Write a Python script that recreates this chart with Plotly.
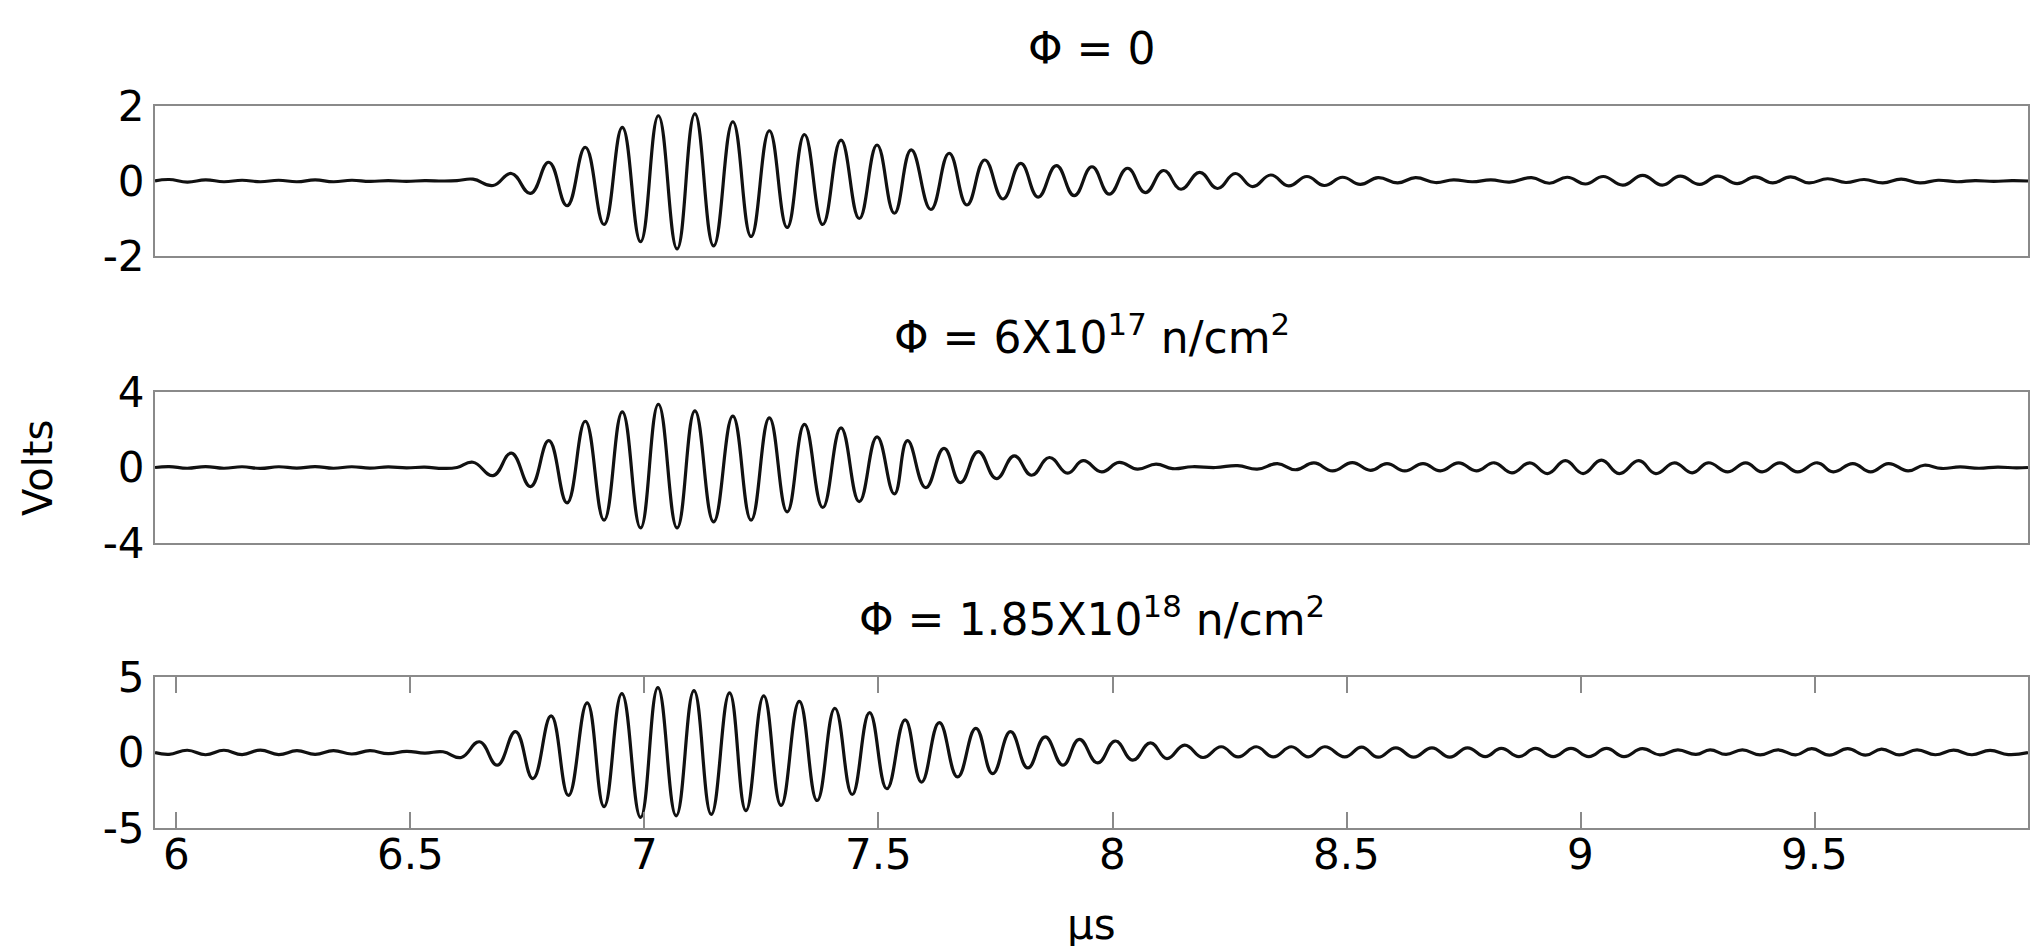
import plotly.graph_objects as go

time_p1 = [5.955, 5.985, 6.024, 6.063, 6.102, 6.141, 6.180, 6.219, 6.258, 6.297, 6.336, 6.375, 6.414,
           6.453, 6.492, 6.531, 6.570, 6.600,
           6.634, 6.677, 6.716, 6.757, 6.796, 6.835, 6.874, 6.914, 6.953, 6.992, 7.030, 7.070, 7.108,
           7.148, 7.189, 7.228, 7.267, 7.305, 7.342, 7.381, 7.420, 7.459, 7.497, 7.534, 7.570, 7.612,
           7.651, 7.689, 7.727, 7.766, 7.804, 7.841, 7.880, 7.918, 7.956, 7.993, 8.032, 8.070, 8.109,
           8.146, 8.186, 8.224, 8.262, 8.299, 8.338, 8.376, 8.415, 8.452, 8.491, 8.529,
           8.567, 8.609, 8.647, 8.689, 8.728, 8.768, 8.808, 8.848, 8.895, 8.933, 8.971, 9.010, 9.048,
           9.090, 9.132, 9.174, 9.212, 9.254, 9.292, 9.334, 9.372, 9.410, 9.448, 9.487, 9.527, 9.566,
           9.605, 9.645, 9.684, 9.724, 9.763, 9.803, 9.842, 9.882, 9.921, 9.955]
volts_p1 = [0.00, 0.04, -0.03, 0.03, -0.02, 0.02, -0.02, 0.02, -0.02, 0.03, -0.02, 0.02, -0.01,
            0.01, -0.01, 0.01, 0.00, 0.01,
            0.05, -0.12, 0.20, -0.33, 0.50, -0.66, 0.90, -1.16, 1.43, -1.62, 1.74, -1.81, 1.79,
            -1.73, 1.58, -1.48, 1.34, -1.24, 1.24, -1.16, 1.09, -1.00, 0.96, -0.86, 0.83, -0.76,
            0.74, -0.64, 0.56, -0.48, 0.47, -0.43, 0.41, -0.39, 0.38, -0.35, 0.34, -0.31, 0.28,
            -0.22, 0.23, -0.20, 0.20, -0.15, 0.16, -0.13, 0.12, -0.12, 0.10, -0.09,
            0.09, -0.05, 0.09, -0.04, 0.03, -0.02, 0.03, -0.03, 0.09, -0.06, 0.10, -0.08, 0.12,
            -0.11, 0.15, -0.11, 0.13, -0.09, 0.13, -0.07, 0.11, -0.05, 0.11, -0.05, 0.06, -0.04,
            0.04, -0.05, 0.05, -0.05, 0.02, -0.02, 0.01, -0.01, 0.01, 0.00]

time_p2 = [5.955, 5.985, 6.024, 6.063, 6.102, 6.141, 6.180, 6.219, 6.258, 6.297, 6.336, 6.375, 6.414,
           6.453, 6.492, 6.531, 6.570, 6.600,
           6.634, 6.677, 6.716, 6.757, 6.796, 6.835, 6.874, 6.914, 6.953, 6.992, 7.030, 7.070, 7.108,
           7.148, 7.189, 7.228, 7.267, 7.305, 7.342, 7.381, 7.420, 7.459, 7.497, 7.534, 7.562, 7.601,
           7.640, 7.675, 7.713, 7.752, 7.790, 7.827, 7.865, 7.904, 7.937, 7.977, 8.014, 8.053, 8.093,
           8.128, 8.170, 8.220, 8.267, 8.309, 8.352, 8.391, 8.430, 8.470, 8.512, 8.551,
           8.586, 8.624, 8.663, 8.700, 8.739, 8.777, 8.815, 8.853, 8.891, 8.929, 8.967, 9.005, 9.044,
           9.082, 9.124, 9.160, 9.200, 9.238, 9.272, 9.314, 9.352, 9.387, 9.425, 9.463, 9.505, 9.539,
           9.581, 9.619, 9.657, 9.699, 9.733, 9.770, 9.810, 9.850, 9.890, 9.930, 9.955]
volts_p2 = [0.00, 0.05, -0.04, 0.05, -0.04, 0.04, -0.05, 0.04, -0.03, 0.05, -0.04, 0.04, -0.03,
            0.03, -0.02, 0.02, -0.05, 0.00,
            0.28, -0.43, 0.76, -1.01, 1.42, -1.87, 2.45, -2.79, 2.95, -3.20, 3.35, -3.20, 3.00,
            -2.88, 2.72, -2.79, 2.63, -2.35, 2.28, -2.12, 2.10, -1.81, 1.62, -1.40, 1.42, -1.07,
            1.01, -0.80, 0.84, -0.59, 0.62, -0.41, 0.53, -0.30, 0.36, -0.23, 0.27, -0.09, 0.18,
            -0.06, 0.04, 0.00, 0.10, -0.09, 0.20, -0.12, 0.24, -0.18, 0.26, -0.15,
            0.21, -0.18, 0.21, -0.18, 0.25, -0.18, 0.25, -0.28, 0.25, -0.32, 0.36, -0.32, 0.39,
            -0.32, 0.36, -0.32, 0.25, -0.28, 0.25, -0.23, 0.25, -0.23, 0.25, -0.23, 0.25, -0.23,
            0.21, -0.23, 0.21, -0.18, 0.12, -0.05, 0.03, -0.04, 0.02, -0.02, 0.00]

time_p3 = [5.955, 5.985, 6.024, 6.063, 6.102, 6.141, 6.180, 6.219, 6.258, 6.297, 6.336, 6.375, 6.414,
           6.453, 6.492, 6.531, 6.570,
           6.609, 6.648, 6.686, 6.725, 6.762, 6.801, 6.838, 6.878, 6.914, 6.952, 6.992, 7.029, 7.068,
           7.106, 7.143, 7.182, 7.217, 7.255, 7.292, 7.331, 7.369, 7.407, 7.444, 7.481, 7.518, 7.557,
           7.592, 7.630, 7.669, 7.708, 7.744, 7.782, 7.819, 7.856, 7.894, 7.929, 7.968, 8.006, 8.043,
           8.081, 8.116, 8.154, 8.193, 8.232, 8.268, 8.307, 8.343, 8.382, 8.418, 8.453, 8.496, 8.532,
           8.567, 8.605, 8.643, 8.682, 8.720, 8.758, 8.796, 8.830, 8.868, 8.903, 8.941, 8.979, 9.017,
           9.055, 9.092, 9.131, 9.169, 9.207, 9.246, 9.276, 9.310, 9.345, 9.383, 9.421, 9.459, 9.493,
           9.531, 9.570, 9.608, 9.642, 9.680, 9.718, 9.757, 9.796, 9.835, 9.874, 9.913, 9.955]
volts_p3 = [0.00, -0.12, 0.15, -0.15, 0.15, -0.14, 0.16, -0.14, 0.12, -0.12, 0.12, -0.10, 0.12,
            -0.08, 0.08, -0.04, 0.05,
            -0.33, 0.71, -0.84, 1.38, -1.73, 2.42, -2.84, 3.29, -3.58, 3.90, -4.30, 4.30, -4.20,
            4.10, -4.10, 3.95, -3.85, 3.75, -3.50, 3.38, -3.18, 2.93, -2.78, 2.64, -2.40, 2.16,
            -1.96, 1.98, -1.62, 1.60, -1.40, 1.38, -1.02, 1.04, -0.84, 0.87, -0.69, 0.76, -0.51,
            0.64, -0.40, 0.49, -0.33, 0.38, -0.29, 0.38, -0.29, 0.38, -0.29, 0.38, -0.29, 0.36,
            -0.31, 0.31, -0.31, 0.31, -0.31, 0.31, -0.27, 0.27, -0.27, 0.27, -0.27, 0.27, -0.27,
            0.27, -0.27, 0.25, -0.16, 0.18, -0.13, 0.18, -0.13, 0.18, -0.16, 0.18, -0.16, 0.25,
            -0.18, 0.25, -0.18, 0.22, -0.16, 0.18, -0.15, 0.16, -0.15, 0.14, -0.14, 0.00]

panel_titles = ["Φ = 0",
                "Φ = 6X10<sup>17</sup> n/cm<sup>2</sup>",
                "Φ = 1.85X10<sup>18</sup> n/cm<sup>2</sup>"]
y_limits = [2, 4, 5]
x_range = [5.955, 9.955]
x_ticks = [6, 6.5, 7, 7.5, 8, 8.5, 9, 9.5]
x_tick_labels = ["6", "6.5", "7", "7.5", "8", "8.5", "9", "9.5"]
x_label = "µs"
y_label = "Volts"

# ---- layout geometry (pixels) ----
W, H = 2040, 946
ML, MR, MT, MB = 147, 20, 98, 126
plot_h = H - MT - MB
panel_px = [(98, 248), (384, 535), (669, 820)]   # top, bottom of each panel box
title_px = [41, 326, 608]


def frac(ypix):
    return (H - MB - ypix) / plot_h


FONT = "DejaVu Sans"
FRAME = "#8a8a8a"

fig = go.Figure()
series = [(time_p1, volts_p1), (time_p2, volts_p2), (time_p3, volts_p3)]
for i, (t, v) in enumerate(series):
    suffix = "" if i == 0 else str(i + 1)
    fig.add_trace(go.Scatter(
        x=t, y=v, mode="lines",
        line=dict(color="#111111", width=3.2, shape="spline", smoothing=1.3),
        xaxis="x" + suffix, yaxis="y" + suffix, hoverinfo="skip", showlegend=False))

layout = dict(
    width=W, height=H,
    margin=dict(l=ML, r=MR, t=MT, b=MB, pad=0),
    paper_bgcolor="white", plot_bgcolor="white",
    showlegend=False,
    font=dict(family=FONT, color="black", size=42),
)

annotations = []
for i in range(3):
    suffix = "" if i == 0 else str(i + 1)
    top, bot = panel_px[i]
    L = y_limits[i]
    last = (i == 2)
    xa = dict(
        domain=[0, 1], range=x_range, anchor="y" + suffix,
        showline=True, linecolor=FRAME, linewidth=2,
        mirror="ticks" if last else True,
        showgrid=False, zeroline=False,
        ticks="inside" if last else "",
        ticklen=16, tickwidth=2, tickcolor=FRAME,
        tickvals=x_ticks if last else [],
        showticklabels=False,
    )
    ya = dict(
        domain=[frac(bot), frac(top)], range=[-L, L], anchor="x" + suffix,
        showline=True, linecolor=FRAME, linewidth=2, mirror=True,
        showgrid=False, zeroline=False, ticks="",
        tickvals=[-L, 0, L], ticktext=["-" + str(L), "0", str(L)],
        tickfont=dict(family=FONT, size=42, color="black"),
        ticklabelstandoff=0,
    )
    layout["xaxis" + suffix] = xa
    layout["yaxis" + suffix] = ya
    annotations.append(dict(
        text=panel_titles[i], xref="paper", yref="paper",
        x=0.5, y=frac(title_px[i]), xanchor="center", yanchor="middle",
        showarrow=False, font=dict(family=FONT, size=44, color="black")))

# bottom x tick labels, placed on the bottom axis' own scale
for tv, tl in zip(x_ticks, x_tick_labels):
    annotations.append(dict(
        text=tl, xref="x3", yref="paper", x=tv, y=frac(846),
        xanchor="center", yanchor="middle", showarrow=False,
        font=dict(family=FONT, size=42, color="black")))

annotations.append(dict(
    text=x_label, xref="paper", yref="paper", x=0.5, y=frac(916),
    xanchor="center", yanchor="middle", showarrow=False,
    font=dict(family=FONT, size=42, color="black")))
annotations.append(dict(
    text=y_label, xref="paper", yref="paper", x=(30 - ML) / (W - ML - MR), y=frac(460),
    xanchor="center", yanchor="middle", textangle=-90, showarrow=False,
    font=dict(family=FONT, size=40, color="black")))

layout["annotations"] = annotations
fig.update_layout(**layout)
fig.write_html("out.html")
